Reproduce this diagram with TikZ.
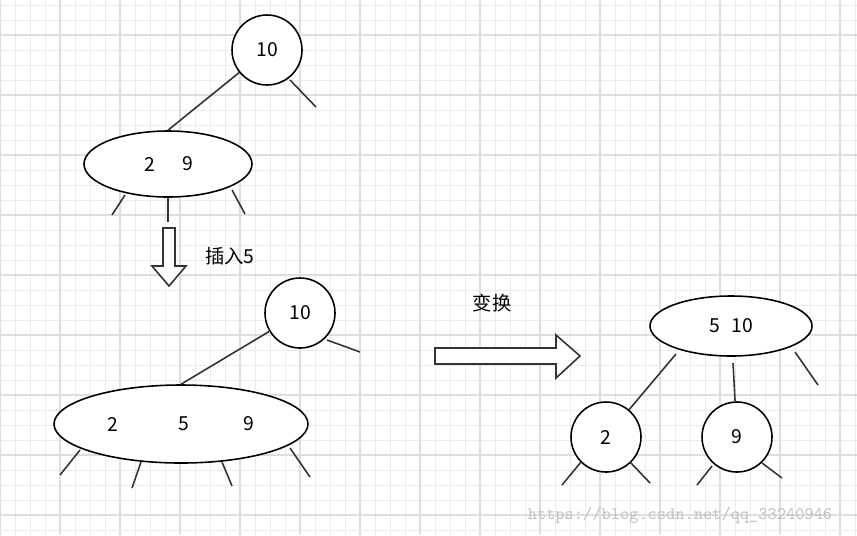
\documentclass[tikz,border=0pt]{standalone}
\usepackage{fontspec}
\setmainfont{Noto Sans CJK SC}
\usetikzlibrary{shapes.geometric}
\begin{document}
\begin{tikzpicture}[x=0.02cm,y=-0.02cm,
  ln/.style={line width=0.9pt,black!80},
  nd/.style={draw,line width=0.9pt,fill=white,font=\fontsize{11}{13}\selectfont},
  lb/.style={font=\fontsize{11}{13}\selectfont}]
\useasboundingbox (0,0) rectangle (857,535);
\fill[white] (0,0) rectangle (857,535);
\foreach \i in {0,...,57} \draw[black!8,line width=0.5pt] (\i*15,0) -- (\i*15,535);
\foreach \i in {0,...,35} \draw[black!8,line width=0.5pt] (0,5+\i*15) -- (857,5+\i*15);
\foreach \i in {0,...,14} \draw[black!13,line width=0.6pt] (\i*60,0) -- (\i*60,535);
\foreach \i in {0,...,8} \draw[black!13,line width=0.6pt] (0,35+\i*60) -- (857,35+\i*60);
% top tree
\node[nd,circle,minimum size=70*0.02cm,inner sep=0] (a) at (267,50) {10};
\node[nd,ellipse,minimum width=168*0.02cm,minimum height=66*0.02cm,inner sep=0] (b) at (168,164) {};
\node[lb] (b2) at (150,164) {2};
\node[lb] (b9) at (188,164) {9};
\coordinate (a1) at (316,107);
\draw[ln] (a) -- (b.north) ;
\draw[ln] (290,80) -- (a1);
\draw[ln] (125,195) -- (112,215);
\draw[ln] (168,198) -- (168,222);
\draw[ln] (232,190) -- (245,214);
% down arrow
\draw[line width=0.9pt,black!80,fill=white] (163,228) -- (175,228) -- (175,266) -- (186,266) -- (169,286) -- (152,266) -- (163,266) -- cycle;
\node[lb] (ins) at (230,256) {插入5};
% middle tree
\node[nd,circle,minimum size=70*0.02cm,inner sep=0] (c) at (300,313) {10};
\node[nd,ellipse,minimum width=254*0.02cm,minimum height=78*0.02cm,inner sep=0] (d) at (181,424) {};
\node[lb] (d2) at (113,424) {2};
\node[lb] (d5) at (184,424) {5};
\node[lb] (d9) at (249,424) {9};
\draw[ln] (c) -- (d.north);
\draw[ln] (327,340) -- (360,352);
\draw[ln] (80,450) -- (60,475);
\draw[ln] (141,462) -- (132,488);
\draw[ln] (222,462) -- (232,486);
\draw[ln] (290,448) -- (310,477);
% right arrow
\draw[line width=0.9pt,black!80,fill=white] (435,348) -- (556,348) -- (556,335) -- (580,356) -- (556,378) -- (556,364) -- (435,364) -- cycle;
\node[lb] (tr) at (492,303) {变换};
% right tree
\node[nd,ellipse,minimum width=162*0.02cm,minimum height=60*0.02cm,inner sep=0] (e) at (731,326) {5\hspace{0.6em}10};
\node[nd,circle,minimum size=70*0.02cm,inner sep=0] (f) at (606,437) {2};
\node[nd,circle,minimum size=70*0.02cm,inner sep=0] (g) at (737,437) {9};
\draw[ln] (676,354) -- (f);
\draw[ln] (733,363) -- (g);
\draw[ln] (795,352) -- (818,385);
\draw[ln] (581,462) -- (562,485);
\draw[ln] (630,462) -- (650,483);
\draw[ln] (712,466) -- (697,485);
\draw[ln] (762,463) -- (782,478);
\node[font=\ttfamily\fontsize{10}{12}\selectfont,text=black!25] (wm) at (680,515) {https://blog.csdn.net/qq\_33240946};
\end{tikzpicture}
\end{document}
